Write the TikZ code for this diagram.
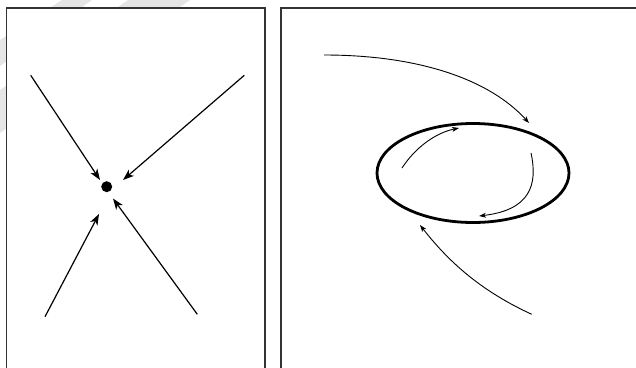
\documentclass[tikz,border=0pt]{standalone}
\usetikzlibrary{arrows.meta,shapes.geometric}
\begin{document}
\begin{tikzpicture}[x=1pt,y=-1pt,
  frame/.style={draw=black!80,line width=1.3pt},
  bigarrow/.style={line width=1.2pt,-{Stealth[length=11pt,width=8pt,inset=3pt]}},
  thinarrow/.style={line width=0.9pt,-{Stealth[length=7pt,width=5pt,inset=2pt]}},
  wmark/.style={fill=black!10,draw=none}]
\useasboundingbox (0,0) rectangle (636,367);
% faint watermark bands in the margins
\fill[wmark] (62,0) -- (92,0) -- (0,66) -- (0,40) -- cycle;
\fill[wmark] (128,0) -- (190,0) -- (0,133) -- (0,90) -- cycle;
% panels
\fill[white] (6.5,8) rectangle (265,367);
\fill[white] (281,8) rectangle (636,367);
\draw[frame] (6.5,368) -- (6.5,8) -- (265,8) -- (265,368);
\draw[frame] (281,368) -- (281,8) -- (637,8);
% left panel: sink point
\node[circle,fill=black,inner sep=0pt,minimum size=11pt] (dot) at (106.7,186.7) {};
\coordinate (a1s) at (30.7,75.3);  \coordinate (a1e) at (100,180);
\coordinate (a2s) at (244.3,75.3); \coordinate (a2e) at (123,180);
\coordinate (a3s) at (45,316.7);   \coordinate (a3e) at (99,214);
\coordinate (a4s) at (197.3,314.3);\coordinate (a4e) at (113,198.5);
\draw[bigarrow] (a1s) -- (a1e);
\draw[bigarrow] (a2s) -- (a2e);
\draw[bigarrow] (a3s) -- (a3e);
\draw[bigarrow] (a4s) -- (a4e);
% right panel: limit cycle
\node[ellipse,draw,line width=2.8pt,minimum width=192pt,minimum height=99pt,inner sep=0pt] (orbit) at (473,173) {};
\coordinate (b1s) at (324,55);    \coordinate (b1e) at (529,123);
\coordinate (b2s) at (402,168);   \coordinate (b2e) at (459,128);
\coordinate (b3s) at (531,153);   \coordinate (b3e) at (479,216);
\coordinate (b4s) at (531.7,314.3);\coordinate (b4e) at (420,225);
\draw[thinarrow] (b1s) .. controls (420,55) and (490,80) .. (b1e);
\draw[thinarrow] (b2s) .. controls (415,148) and (435,133) .. (b2e);
\draw[thinarrow] (b3s) .. controls (538,185) and (530,210) .. (b3e);
\draw[thinarrow] (b4s) .. controls (490,295) and (455,270) .. (b4e);
\end{tikzpicture}
\end{document}
